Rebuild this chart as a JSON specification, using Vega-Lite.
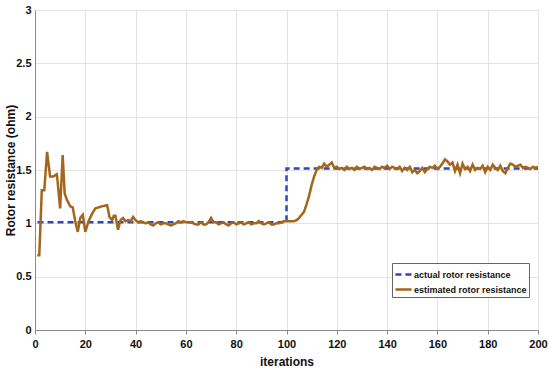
{
  "$schema": "https://vega.github.io/schema/vega-lite/v6.json",
  "autosize": "none",
  "width": 503,
  "height": 320,
  "padding": {"left": 35, "top": 10, "right": 12, "bottom": 43},
  "background": "white",
  "config": {
    "view": {"stroke": "#8a8a8a", "strokeWidth": 1},
    "font": "Liberation Sans, Arial, sans-serif"
  },
  "datasets": {
    "actual": [
      {"iter": 1, "value": 1.01}, {"iter": 100, "value": 1.01},
      {"iter": 100, "value": 1.515}, {"iter": 200, "value": 1.515}
    ],
    "est": [
      {"iter": 0.9, "value": 0.70}, {"iter": 1.7, "value": 0.70}, {"iter": 2.7, "value": 1.31}, {"iter": 3.7, "value": 1.31},
      {"iter": 4.8, "value": 1.67}, {"iter": 6, "value": 1.44}, {"iter": 7.3, "value": 1.44}, {"iter": 8.7, "value": 1.46},
      {"iter": 10, "value": 1.14}, {"iter": 11, "value": 1.64}, {"iter": 11.8, "value": 1.28}, {"iter": 12.7, "value": 1.22},
      {"iter": 14, "value": 1.16}, {"iter": 15, "value": 1.15}, {"iter": 16, "value": 1.02}, {"iter": 17, "value": 0.92},
      {"iter": 18, "value": 1.05}, {"iter": 19, "value": 1.08}, {"iter": 20, "value": 0.92}, {"iter": 21.3, "value": 1.02},
      {"iter": 22.7, "value": 1.09}, {"iter": 24, "value": 1.14}, {"iter": 25.3, "value": 1.15}, {"iter": 26.7, "value": 1.16},
      {"iter": 28.7, "value": 1.17}, {"iter": 29.6, "value": 1.06}, {"iter": 30.7, "value": 1.03}, {"iter": 31.3, "value": 1.07},
      {"iter": 32, "value": 1.07}, {"iter": 33, "value": 0.94}, {"iter": 34, "value": 1.03}, {"iter": 35, "value": 1.05},
      {"iter": 36, "value": 1.02}, {"iter": 37, "value": 1.03}, {"iter": 38, "value": 1.02}, {"iter": 39, "value": 1.06},
      {"iter": 40, "value": 1.03}, {"iter": 41, "value": 1.01}, {"iter": 42, "value": 1.02}, {"iter": 43, "value": 1.01},
      {"iter": 44, "value": 1.00}, {"iter": 45, "value": 1.01}, {"iter": 46, "value": 0.99}, {"iter": 47, "value": 0.98},
      {"iter": 48, "value": 1.00}, {"iter": 49, "value": 1.01}, {"iter": 50, "value": 0.99}, {"iter": 51, "value": 1.00},
      {"iter": 52, "value": 1.00}, {"iter": 53, "value": 0.99}, {"iter": 54, "value": 0.98}, {"iter": 55, "value": 0.99},
      {"iter": 56, "value": 1.00}, {"iter": 57, "value": 1.02}, {"iter": 58, "value": 1.01}, {"iter": 59, "value": 1.02},
      {"iter": 60, "value": 1.01}, {"iter": 61, "value": 1.01}, {"iter": 62, "value": 1.01}, {"iter": 63, "value": 1.00},
      {"iter": 64, "value": 0.99}, {"iter": 65, "value": 0.99}, {"iter": 66, "value": 1.01}, {"iter": 67, "value": 0.99},
      {"iter": 68, "value": 0.99}, {"iter": 69, "value": 1.01}, {"iter": 70, "value": 1.05}, {"iter": 71, "value": 1.01},
      {"iter": 72, "value": 1.01}, {"iter": 73, "value": 0.99}, {"iter": 74, "value": 1.00}, {"iter": 75, "value": 1.01},
      {"iter": 76, "value": 0.99}, {"iter": 77, "value": 0.98}, {"iter": 78, "value": 1.00}, {"iter": 79, "value": 1.01},
      {"iter": 80, "value": 0.99}, {"iter": 81, "value": 1.00}, {"iter": 82, "value": 1.01}, {"iter": 83, "value": 0.99},
      {"iter": 84, "value": 1.00}, {"iter": 85, "value": 1.01}, {"iter": 86, "value": 0.99}, {"iter": 87, "value": 1.00},
      {"iter": 88, "value": 1.00}, {"iter": 89, "value": 1.02}, {"iter": 90, "value": 1.00}, {"iter": 91, "value": 0.99},
      {"iter": 92, "value": 1.00}, {"iter": 93, "value": 1.01}, {"iter": 94, "value": 0.99}, {"iter": 95, "value": 0.99},
      {"iter": 96, "value": 1.00}, {"iter": 97, "value": 1.00}, {"iter": 98, "value": 1.01}, {"iter": 99, "value": 1.02},
      {"iter": 100, "value": 1.02}, {"iter": 101, "value": 1.02}, {"iter": 102, "value": 1.02}, {"iter": 103, "value": 1.02},
      {"iter": 104, "value": 1.03}, {"iter": 105, "value": 1.05}, {"iter": 106, "value": 1.08}, {"iter": 107, "value": 1.11},
      {"iter": 108, "value": 1.18}, {"iter": 109, "value": 1.26}, {"iter": 110, "value": 1.36}, {"iter": 111, "value": 1.44},
      {"iter": 112, "value": 1.50}, {"iter": 113, "value": 1.53}, {"iter": 114, "value": 1.52}, {"iter": 115, "value": 1.56},
      {"iter": 116, "value": 1.53}, {"iter": 117, "value": 1.55}, {"iter": 118, "value": 1.57}, {"iter": 119, "value": 1.52},
      {"iter": 120, "value": 1.53}, {"iter": 121, "value": 1.51}, {"iter": 122, "value": 1.52}, {"iter": 123, "value": 1.50},
      {"iter": 124, "value": 1.53}, {"iter": 125, "value": 1.51}, {"iter": 126, "value": 1.52}, {"iter": 127, "value": 1.50},
      {"iter": 128, "value": 1.53}, {"iter": 129, "value": 1.51}, {"iter": 130, "value": 1.52}, {"iter": 131, "value": 1.53},
      {"iter": 132, "value": 1.51}, {"iter": 133, "value": 1.52}, {"iter": 134, "value": 1.50}, {"iter": 135, "value": 1.53},
      {"iter": 136, "value": 1.52}, {"iter": 137, "value": 1.51}, {"iter": 138, "value": 1.53}, {"iter": 139, "value": 1.52},
      {"iter": 140, "value": 1.54}, {"iter": 141, "value": 1.51}, {"iter": 142, "value": 1.53}, {"iter": 143, "value": 1.52},
      {"iter": 144, "value": 1.51}, {"iter": 145, "value": 1.53}, {"iter": 146, "value": 1.49}, {"iter": 147, "value": 1.52},
      {"iter": 148, "value": 1.50}, {"iter": 149, "value": 1.53}, {"iter": 150, "value": 1.48}, {"iter": 151, "value": 1.50},
      {"iter": 152, "value": 1.47}, {"iter": 153, "value": 1.49}, {"iter": 154, "value": 1.52}, {"iter": 155, "value": 1.48},
      {"iter": 156, "value": 1.51}, {"iter": 157, "value": 1.53}, {"iter": 158, "value": 1.52}, {"iter": 159, "value": 1.54},
      {"iter": 160, "value": 1.51}, {"iter": 161, "value": 1.53}, {"iter": 162, "value": 1.56}, {"iter": 163, "value": 1.60},
      {"iter": 164, "value": 1.58}, {"iter": 165, "value": 1.55}, {"iter": 166, "value": 1.57}, {"iter": 167, "value": 1.49},
      {"iter": 168, "value": 1.55}, {"iter": 169, "value": 1.47}, {"iter": 170, "value": 1.56}, {"iter": 171, "value": 1.51},
      {"iter": 172, "value": 1.53}, {"iter": 173, "value": 1.49}, {"iter": 174, "value": 1.55}, {"iter": 175, "value": 1.50},
      {"iter": 176, "value": 1.52}, {"iter": 177, "value": 1.51}, {"iter": 178, "value": 1.54}, {"iter": 179, "value": 1.48},
      {"iter": 180, "value": 1.53}, {"iter": 181, "value": 1.50}, {"iter": 182, "value": 1.55}, {"iter": 183, "value": 1.52},
      {"iter": 184, "value": 1.50}, {"iter": 185, "value": 1.54}, {"iter": 186, "value": 1.49}, {"iter": 187, "value": 1.47},
      {"iter": 188, "value": 1.52}, {"iter": 189, "value": 1.56}, {"iter": 190, "value": 1.55}, {"iter": 191, "value": 1.53},
      {"iter": 192, "value": 1.54}, {"iter": 193, "value": 1.55}, {"iter": 194, "value": 1.52}, {"iter": 195, "value": 1.53},
      {"iter": 196, "value": 1.52}, {"iter": 197, "value": 1.51}, {"iter": 198, "value": 1.53}, {"iter": 199, "value": 1.52},
      {"iter": 200, "value": 1.53}
    ]
  },
  "layer": [
    {
      "data": {"name": "actual"},
      "transform": [{"calculate": "'actual rotor resistance'", "as": "series"}],
      "mark": {"type": "line", "strokeWidth": 2.5, "clip": true},
      "encoding": {
        "x": {"field": "iter", "type": "quantitative"},
        "y": {"field": "value", "type": "quantitative"}
      }
    },
    {
      "data": {"name": "est"},
      "transform": [{"calculate": "'estimated rotor resistance'", "as": "series"}],
      "mark": {"type": "line", "strokeWidth": 2.5, "clip": true},
      "encoding": {
        "x": {"field": "iter", "type": "quantitative"},
        "y": {"field": "value", "type": "quantitative"}
      }
    }
  ],
  "encoding": {
    "x": {
      "field": "iter", "type": "quantitative",
      "scale": {"domain": [0, 200], "nice": false, "zero": false},
      "axis": {
        "title": "iterations", "values": [0, 20, 40, 60, 80, 100, 120, 140, 160, 180, 200],
        "grid": true, "gridColor": "#e4e4e4", "domainColor": "#8a8a8a", "tickColor": "#8a8a8a",
        "tickSize": 4, "labelPadding": 4, "labelFontSize": 11, "labelFontWeight": "bold", "labelColor": "#111",
        "titleFontSize": 12, "titleFontWeight": "bold", "titleColor": "#111", "titlePadding": 7, "labelFlush": false
      }
    },
    "y": {
      "field": "value", "type": "quantitative",
      "scale": {"domain": [0, 3], "nice": false},
      "axis": {
        "title": "Rotor resistance (ohm)", "values": [0, 0.5, 1, 1.5, 2, 2.5, 3], "format": "~g",
        "grid": true, "gridColor": "#e4e4e4", "domainColor": "#8a8a8a", "tickColor": "#8a8a8a",
        "tickSize": 0, "labelPadding": 4, "labelFontSize": 11, "labelFontWeight": "bold", "labelColor": "#111",
        "titleFontSize": 12, "titleFontWeight": "bold",
        "titleColor": "#111", "titleX": -18, "labelFlush": false
      }
    },
    "color": {
      "field": "series", "type": "nominal",
      "scale": {"domain": ["actual rotor resistance", "estimated rotor resistance"], "range": ["#2f45c4", "#a3661c"]},
      "legend": {
        "title": null, "orient": "none", "legendX": 357, "legendY": 253,
        "symbolType": "stroke", "symbolSize": 260, "symbolStrokeWidth": 2.5,
        "labelFontSize": 9, "labelFontWeight": "bold", "labelColor": "#111", "labelOffset": 1,
        "fillColor": "white", "strokeColor": "#666", "padding": 2, "rowPadding": 0
      }
    },
    "strokeDash": {
      "field": "series", "type": "nominal",
      "scale": {"domain": ["actual rotor resistance", "estimated rotor resistance"], "range": [[6, 4], [1, 0]]},
      "legend": null
    }
  }
}
